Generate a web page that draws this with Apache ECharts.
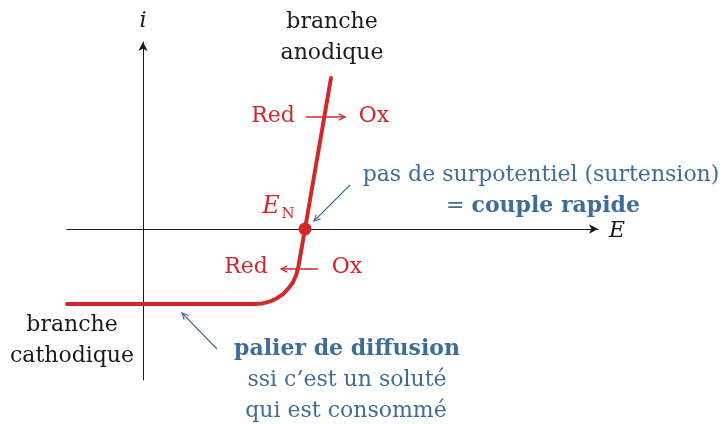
<!DOCTYPE html>
<html>
<head>
<meta charset="utf-8">
<script src="https://cdn.jsdelivr.net/npm/echarts@6/dist/echarts.min.js"></script>
<style>html,body{margin:0;padding:0;background:#fff}#chart{width:728px;height:424px}</style>
</head>
<body>
<div id="chart"></div>
<script>
// courbe i(E) d'un couple rapide, unites arbitraires (origine au croisement des axes)
var curveE = [-1.9, 2.8, 2.99, 3.18, 3.35, 3.51, 3.64, 3.75, 3.83, 3.88, 4.05, 4.7];
var curveI = [-1.875, -1.875, -1.86, -1.81, -1.73, -1.62, -1.48, -1.33, -1.15, -0.965, 0, 3.775];
var pointEN = [4.05, 0];
var rangeE = [-1.9, 11.375];
var rangeI = [-3.775, 4.675];

var RED = '#d0292d';
var BLUE = '#3f6c98';
var INK = '#1a1a1a';
var FONT = 'DejaVu Serif';

var chart = echarts.init(document.getElementById('chart'), null, {renderer: 'canvas'});

var curveData = [];
for (var i = 0; i < curveE.length; i++) {
  curveData.push([curveE[i], curveI[i]]);
}

function txt(s, x, y, color, opts) {
  opts = opts || {};
  return {
    type: 'text',
    z: 10,
    style: {
      text: s, x: x, y: y,
      fill: color,
      font: (opts.italic ? 'italic ' : '') + (opts.bold ? 'bold ' : '') + (opts.size || 22) + 'px "' + FONT + '"',
      textAlign: opts.align || 'center',
      textVerticalAlign: 'middle'
    }
  };
}

// fleche : segment + pointe ouverte
function arrow(x1, y1, x2, y2, color, w) {
  var a = Math.atan2(y2 - y1, x2 - x1);
  var L = 7, da = 0.45;
  return {
    type: 'group',
    z: 10,
    children: [
      {type: 'line', shape: {x1: x1, y1: y1, x2: x2, y2: y2}, style: {stroke: color, lineWidth: w}},
      {type: 'polyline', shape: {points: [
        [x2 - L * Math.cos(a - da), y2 - L * Math.sin(a - da)],
        [x2, y2],
        [x2 - L * Math.cos(a + da), y2 - L * Math.sin(a + da)]
      ]}, style: {stroke: color, lineWidth: w, fill: null}}
    ]
  };
}

var graphics = [
  txt('i', 143, 21, INK, {italic: true}),
  txt('E', 617, 231, INK, {italic: true}),
  txt('branche', 332, 22, INK),
  txt('anodique', 332, 53, INK),
  txt('branche', 72, 325, INK),
  txt('cathodique', 72, 356, INK),

  txt('Red', 273, 116, RED),
  arrow(306, 117, 345, 117, RED, 1.3),
  txt('Ox', 374, 116, RED),

  txt('Red', 246, 267, RED),
  arrow(318, 269, 281, 269, RED, 1.3),
  txt('Ox', 347, 267, RED),

  txt('E', 271, 207, RED, {italic: true, size: 24}),
  txt('N', 288, 214, RED, {size: 15}),

  arrow(350, 185, 314, 221, BLUE, 1.1),
  txt('pas de surpotentiel (surtension)', 541, 175, BLUE),
  {
    type: 'text', z: 10,
    style: {
      text: '{r|= }{b|couple rapide}', x: 543, y: 206,
      textAlign: 'center', textVerticalAlign: 'middle',
      rich: {
        r: {fill: BLUE, font: '22px "' + FONT + '"'},
        b: {fill: BLUE, font: 'bold 22px "' + FONT + '"'}
      }
    }
  },

  arrow(217, 349, 182, 313, BLUE, 1.1),
  txt('palier de diffusion', 347, 349, BLUE, {bold: true}),
  txt('ssi c\u2019est un solut\u00e9', 347, 380, BLUE),
  txt('qui est consomm\u00e9', 346, 411, BLUE)
];

var axisCommon = {
  type: 'value',
  axisLine: {
    show: true, onZero: true,
    symbol: ['none', 'arrow'], symbolSize: [7, 9], symbolOffset: [0, 0],
    lineStyle: {color: INK, width: 1}
  },
  axisTick: {show: false},
  axisLabel: {show: false},
  splitLine: {show: false}
};

chart.setOption({
  animation: false,
  backgroundColor: '#fff',
  grid: {left: 67, right: 130, top: 42, bottom: 44},
  xAxis: Object.assign({}, axisCommon, {min: rangeE[0], max: rangeE[1]}),
  yAxis: Object.assign({}, axisCommon, {min: rangeI[0], max: rangeI[1]}),
  graphic: graphics,
  series: [
    {
      type: 'line',
      data: curveData,
      symbol: 'none',
      smooth: false,
      lineStyle: {color: RED, width: 4, cap: 'round', join: 'round'},
      z: 5
    },
    {
      type: 'scatter',
      data: [pointEN],
      symbolSize: 13,
      itemStyle: {color: RED, opacity: 1},
      z: 6
    }
  ]
});
</script>
</body>
</html>
